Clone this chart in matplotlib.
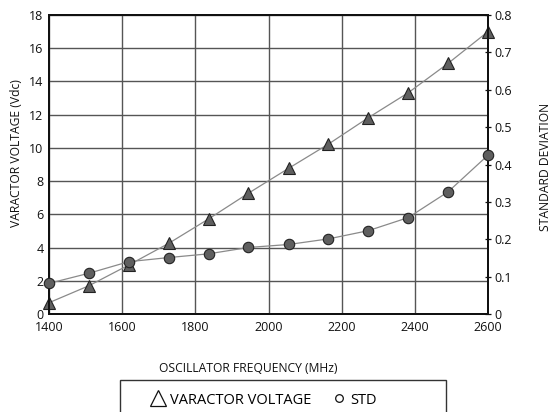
import matplotlib
matplotlib.use("Agg")
import matplotlib.pyplot as plt
from matplotlib.lines import Line2D
from matplotlib.patches import Rectangle

plt.rcParams['font.family'] = ['Open Sans', 'DejaVu Sans']

freq = [1400, 1509, 1618, 1727, 1836, 1945, 2055, 2164, 2273, 2382, 2491, 2600]
varactor_v = [0.68, 1.70, 2.95, 4.25, 5.72, 7.27, 8.77, 10.23, 11.82, 13.32, 15.09, 17.0]
std_dev = [0.082, 0.109, 0.140, 0.151, 0.161, 0.178, 0.186, 0.201, 0.223, 0.258, 0.327, 0.425]
x_ticks = [1400, 1600, 1800, 2000, 2200, 2400, 2600]
y_left_ticks = [0, 2, 4, 6, 8, 10, 12, 14, 16, 18]
y_right_ticks = [0, 0.1, 0.2, 0.3, 0.4, 0.5, 0.6, 0.7, 0.8]
y_right_labels = ['0', '0.1', '0.2', '0.3', '0.4', '0.5', '0.6', '0.7', '0.8']

W, H = 548, 412
fig = plt.figure(figsize=(W / 100, H / 100), dpi=100)
ax = fig.add_axes([49 / W, 1 - 314 / H, (488 - 49) / W, (314 - 15) / H])
ax2 = ax.twinx()

fs = 9.0
line_c = '#8a8a8a'
fill_c = '#5f5f5f'

ax.plot(freq, varactor_v, color=line_c, lw=0.9, marker='^', ms=8.5,
        mfc=fill_c, mec='#222222', mew=0.8, zorder=5, clip_on=False)
ax2.plot(freq, std_dev, color=line_c, lw=0.9, marker='o', ms=7.5,
         mfc=fill_c, mec='#222222', mew=0.8, zorder=5, clip_on=False)

ax.set_xlim(1400, 2600)
ax.set_ylim(0, 18)
ax2.set_ylim(0, 0.8)
ax.set_xticks(x_ticks)
ax.set_xticklabels([str(v) for v in x_ticks], fontsize=fs)
ax.set_yticks(y_left_ticks)
ax.set_yticklabels([str(v) for v in y_left_ticks], fontsize=fs)
ax2.set_yticks(y_right_ticks)
ax2.set_yticklabels(y_right_labels, fontsize=fs)

ax.tick_params(axis='both', length=0, pad=4, colors='#111111')
ax.tick_params(axis='x', pad=5)
ax2.tick_params(axis='y', direction='inout', length=5, width=0.9, pad=2, colors='#111111')

ax.grid(True, color='#555555', lw=1.0)
ax.set_axisbelow(True)
for a in (ax, ax2):
    for s in a.spines.values():
        s.set_color('#111111')
        s.set_linewidth(1.4)

fig.text(17 / W, 1 - 153 / H, 'VARACTOR VOLTAGE (Vdc)', rotation=90,
         ha='center', va='center', fontsize=8.7, color='#111111')
fig.text(539 / W, 1 - 167 / H, 'STANDARD DEVIATION', rotation=90,
         ha='left', va='center', fontsize=8.7, color='#111111')
fig.text(248 / W, 1 - 368 / H, 'OSCILLATOR FREQUENCY (MHz)',
         ha='center', va='center', fontsize=8.7, color='#111111')

# legend frame
fig.patches.append(Rectangle((120 / W, -0.1), (446 - 120) / W, 1 - 380 / H + 0.1,
                             transform=fig.transFigure, fill=False,
                             edgecolor='#333333', lw=1.0))
handles = [Line2D([], [], ls='none', marker='^', ms=11, mfc='none', mec='#111111', mew=0.9),
           Line2D([], [], ls='none', marker='o', ms=5.5, mfc='none', mec='#111111', mew=0.9)]
fig.legend(handles, ['VARACTOR VOLTAGE', 'STD'], loc='center',
           bbox_to_anchor=(264 / W, 1 - 400 / H), ncol=2, frameon=False,
           fontsize=10.5, handlelength=1.0, handletextpad=0.3, columnspacing=1.4)

fig.savefig('out.png', dpi=100)
